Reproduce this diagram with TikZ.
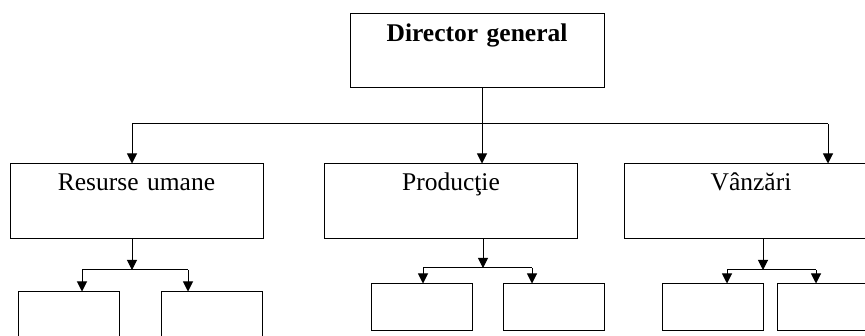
\documentclass[tikz,border=0pt]{standalone}
\usepackage{fontspec}
\setmainfont{Liberation Serif}
\usetikzlibrary{arrows.meta, positioning}

\begin{document}
\begin{tikzpicture}[
  x=1pt, y=-1pt,
  head/.style  = {draw, line width=1pt, inner sep=0pt, text width=254pt, align=center,
                  text height=28pt, text depth=46pt, font=\fontsize{25.5}{30}\selectfont\bfseries},
  dept/.style  = {draw, line width=1pt, inner sep=0pt, text width=253pt, align=center,
                  text height=27pt, text depth=48pt, font=\fontsize{25.5}{30}\selectfont},
  unit/.style  = {draw, line width=1pt, inner sep=0pt, minimum width=101pt, minimum height=47pt},
  arrow/.style = {line width=1pt, -{Triangle[width=10pt, length=10pt]}}
]
  \useasboundingbox (0,0) rectangle (865,336);

  % Director box on top
  \node[head] (director) at (477,51) {Director general};

  % Departments
  \node[dept] (hr)    at (136.5,201.5) {Resurse umane};
  \node[dept] (prod)  at (451,201.5)   {Producţie};
  \node[dept] (sales) at (751,201.5)   {Vânzări};

  % Empty units below each department
  \node[unit] (hr1)    at (69,315.5)    {};
  \node[unit] (hr2)    at (211.5,315.5) {};
  \node[unit] (prod1)  at (421.5,307.5) {};
  \node[unit] (prod2)  at (553.5,307.5) {};
  \node[unit] (sales1) at (712.5,307.5) {};
  \node[unit] (sales2) at (827.5,307.5) {};

  % Bus from director to departments
  \coordinate (topbus) at (482,124);
  \coordinate (busL) at (132,124);
  \coordinate (busR) at (828,124);
  \draw[line width=1pt] (director.south -| topbus) -- (topbus);
  \draw[line width=1pt] (busL) -- (busR);
  \draw[arrow] (busL) -- (hr.north -| busL);
  \draw[arrow] (topbus) -- (prod.north -| topbus);
  \draw[arrow] (busR) -- (sales.north -| busR);

  % Branches from each department to its units
  \foreach \d/\x/\l/\r/\y in {hr/132/82/188/270, prod/483/423/532/268, sales/763/727/816/270} {
    \coordinate (\d bus) at (\x,\y);
    \coordinate (\d busL) at (\l,\y);
    \coordinate (\d busR) at (\r,\y);
    \draw[arrow] (\d.south -| \d bus) -- (\d bus);
    \draw[line width=1pt] (\d busL) -- (\d busR);
    \draw[arrow] (\d busL) -- (\d1.north -| \d busL);
    \draw[arrow] (\d busR) -- (\d2.north -| \d busR);
  }

\end{tikzpicture}
\end{document}
